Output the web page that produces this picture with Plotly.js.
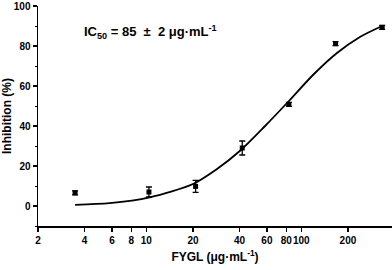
<!DOCTYPE html>
<html>
<head>
<meta charset="utf-8">
<script src="https://cdn.plot.ly/plotly-3.0.1.min.js"></script>
<style>html,body{margin:0;padding:0;background:#fff;}#chart{width:392px;height:270px;}</style>
</head>
<body>
<div id="chart"></div>
<script>
// Measured data (FYGL concentration, µg/mL vs inhibition %)
const concentrations = [3.47, 10.4, 20.8, 41.6, 83.2, 166.4, 332.8];
const inhibition = [6.6, 7.0, 9.8, 29.0, 50.8, 81.2, 89.3];
const inhibitionErr = [1.0, 2.5, 3.0, 3.5, 1.0, 1.0, 1.0];

// Fitted curve
const fitX = [3.47, 5.8, 10.5, 20, 28.6, 40.8, 58.4, 83.2, 119, 170, 239, 332.8];
const fitY = [0.6, 1.4, 4.3, 11.0, 18.5, 28.0, 40.0, 52.5, 65.5, 76.5, 84.5, 90.0];

const xTickVals = [2, 4, 6, 8, 10, 20, 40, 60, 80, 100, 200];
const xTickText = ["2", "4", "6", "8", "10", "20", "40", "60", "80", "100", "200"];

const FONT = "Liberation Sans, Arial, sans-serif";

const traces = [
  {
    x: fitX, y: fitY, type: "scatter", mode: "lines",
    line: {color: "#000", width: 1.8, shape: "spline", smoothing: 0.8},
    hoverinfo: "skip", showlegend: false
  },
  {
    x: concentrations, y: inhibition, type: "scatter", mode: "markers",
    marker: {symbol: "square", size: 5, color: "#000"},
    error_y: {type: "data", array: inhibitionErr, visible: true, color: "#000", thickness: 1.3, width: 3},
    showlegend: false
  }
];

const layout = {
  width: 392, height: 270,
  margin: {l: 38, r: 0, t: 6, b: 44},
  paper_bgcolor: "#fff", plot_bgcolor: "#fff",
  font: {family: FONT, color: "#000", size: 10},
  xaxis: {
    type: "log",
    range: [Math.log10(2), Math.log10(385)],
    tickmode: "array", tickvals: xTickVals, ticktext: xTickText,
    tickangle: 0, automargin: false,
    ticks: "outside", ticklen: 4, tickwidth: 1.3, tickcolor: "#000",
    showline: true, linecolor: "#000", linewidth: 1.5,
    showgrid: false, zeroline: false,
    tickfont: {family: FONT, size: 10, weight: "bold"},
    title: {text: "<b>FYGL (μg·mL<sup>-1</sup>)</b>", font: {family: FONT, size: 12}, standoff: 8}
  },
  yaxis: {
    range: [-10, 100],
    tickmode: "linear", tick0: 0, dtick: 20,
    ticks: "outside", ticklen: 4, tickwidth: 1.3, tickcolor: "#000",
    minor: {dtick: 10, tick0: 0, ticks: "outside", ticklen: 2, tickwidth: 1, tickcolor: "#000", showgrid: false},
    showline: true, linecolor: "#000", linewidth: 1.5,
    showgrid: false, zeroline: false, automargin: false,
    tickfont: {family: FONT, size: 10, weight: "bold"},
    title: {text: "<b>Inhibition (%)</b>", font: {family: FONT, size: 12}, standoff: 6}
  },
  annotations: [{
    xref: "paper", yref: "paper", x: 0.125, y: 0.88, xanchor: "left", yanchor: "middle",
    text: "<b>IC<sub>50</sub> = 85  ±  2 μg·mL<sup>-1</sup></b>",
    showarrow: false, font: {family: FONT, size: 13, color: "#000"}
  }]
};

Plotly.newPlot("chart", traces, layout, {displayModeBar: false, staticPlot: true});
</script>
</body>
</html>
